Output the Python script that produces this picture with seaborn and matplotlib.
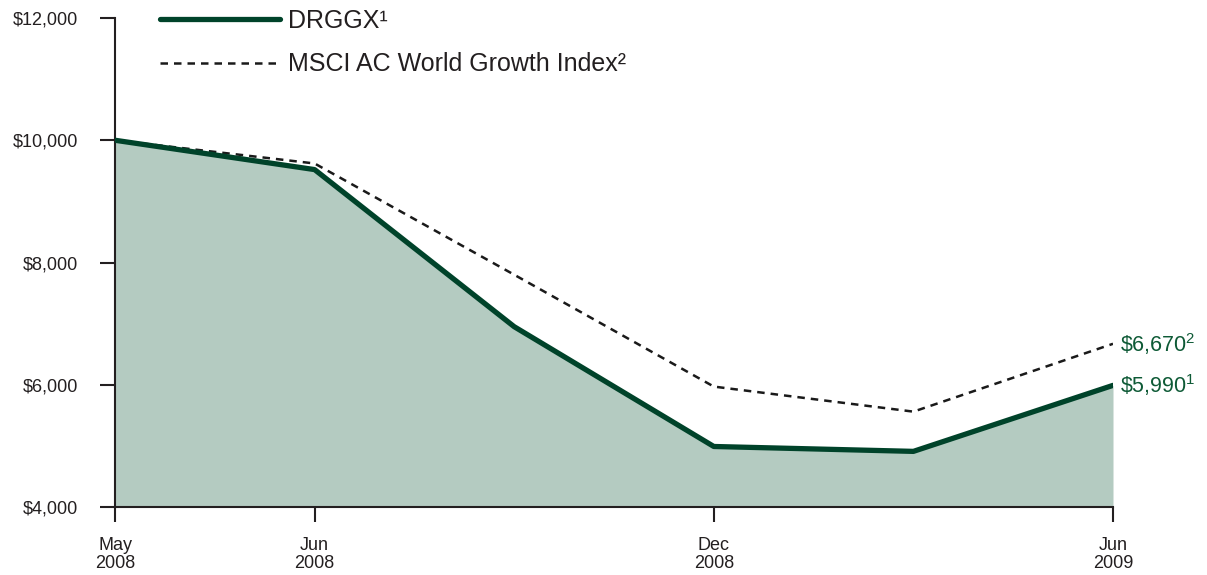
import matplotlib
matplotlib.use("Agg")
import matplotlib.pyplot as plt
import seaborn as sns
import pandas as pd

# ---- data ----
periods = ["May 2008", "Jun 2008", "Sep 2008", "Dec 2008", "Mar 2009", "Jun 2009"]
drggx = [10000, 9520, 6950, 4990, 4910, 5990]
msci = [10000, 9620, 7800, 5970, 5560, 6670]
tick_positions = [0, 1, 3, 5]
tick_labels = ["May\n2008", "Jun\n2008", "Dec\n2008", "Jun\n2009"]
y_ticks = [4000, 6000, 8000, 10000, 12000]
y_tick_labels = ["$4,000", "$6,000", "$8,000", "$10,000", "$12,000"]
series_names = ["DRGGX¹", "MSCI AC World Growth Index²"]
end_labels = [r"\$5,990$^{1}$", r"\$6,670$^{2}$"]

sns.set_theme(style="white")
plt.rcParams["font.family"] = ["Liberation Sans", "DejaVu Sans"]
plt.rcParams["mathtext.fontset"] = "custom"
plt.rcParams["mathtext.rm"] = "Liberation Sans"
plt.rcParams["mathtext.it"] = "Liberation Sans"
plt.rcParams["mathtext.bf"] = "Liberation Sans:bold"
plt.rcParams["mathtext.default"] = "rm"

GREEN = "#00432A"
FILL = "#B4CBC1"
DARK = "#231F20"
LABEL_GREEN = "#0E5A36"

df = pd.DataFrame({"x": list(range(len(periods))), "drggx": drggx, "msci": msci})

fig = plt.figure(figsize=(12.07, 5.75), dpi=100)
ax = fig.add_axes([115 / 1207, 1 - 507 / 575, (1113 - 115) / 1207, (507 - 18) / 575])

ax.fill_between(df["x"], 4000, df["drggx"], color=FILL, linewidth=0, zorder=1)
sns.lineplot(data=df, x="x", y="msci", ax=ax, color="#1a1a1a", linewidth=1.8,
             linestyle=(0, (3.0, 2.4)), label=series_names[1], zorder=2)
sns.lineplot(data=df, x="x", y="drggx", ax=ax, color=GREEN, linewidth=3.8,
             label=series_names[0], zorder=3)

ax.set_xlim(0, len(periods) - 1)
ax.set_ylim(4000, 12000)
ax.set_xticks(tick_positions)
ax.set_xticklabels(tick_labels, fontsize=13, color=DARK, linespacing=1.1)
ax.set_yticks(y_ticks)
ax.set_yticklabels(y_tick_labels, fontsize=13, color=DARK)
ax.set_xlabel("")
ax.set_ylabel("")

for side in ["top", "right"]:
    ax.spines[side].set_visible(False)
for side in ["left", "bottom"]:
    ax.spines[side].set_color(DARK)
    ax.spines[side].set_linewidth(1.5)

ax.tick_params(axis="both", which="major", direction="out", length=10.5, width=1.5,
               color=DARK, left=True, bottom=True)
ax.tick_params(axis="y", pad=16)
ax.tick_params(axis="x", pad=11)

# legend (solid first)
handles, labels = ax.get_legend_handles_labels()
order = [labels.index(series_names[0]), labels.index(series_names[1])]
leg = ax.legend([handles[i] for i in order], [labels[i] for i in order],
                loc="upper left", bbox_to_anchor=(160 / 1207, 1 - 9 / 575),
                bbox_transform=fig.transFigure, frameon=False, fontsize=18,
                handlelength=4.8, handletextpad=0.3, labelspacing=0.77,
                borderaxespad=0, borderpad=0)
for t in leg.get_texts():
    t.set_color(DARK)

# end labels
ax.text(len(periods) - 1 + 0.035, drggx[-1], end_labels[0], fontsize=15.5,
        color=LABEL_GREEN, va="center", ha="left", clip_on=False)
ax.text(len(periods) - 1 + 0.035, msci[-1], end_labels[1], fontsize=15.5,
        color=LABEL_GREEN, va="center", ha="left", clip_on=False)

fig.savefig("out.png", dpi=100)
